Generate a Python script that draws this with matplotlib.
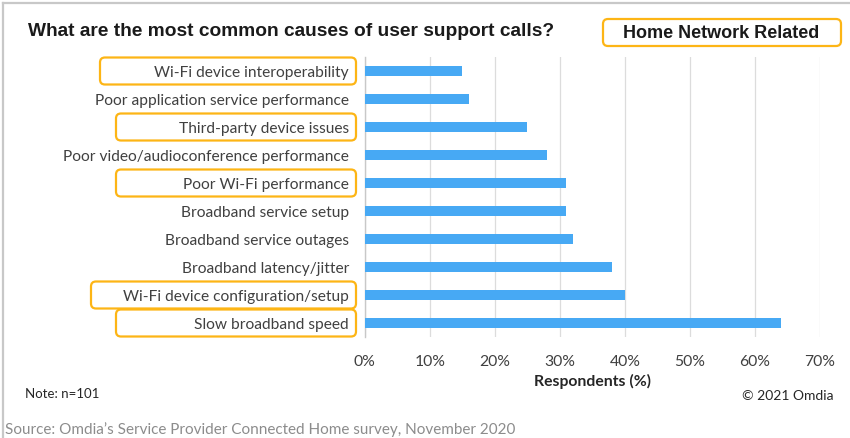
import matplotlib
matplotlib.use("Agg")
import matplotlib.pyplot as plt
from matplotlib.patches import FancyBboxPatch
from matplotlib.lines import Line2D
from matplotlib.transforms import IdentityTransform
from matplotlib.ticker import FuncFormatter

# data, top to bottom as in the chart
causes = [
    "Wi-Fi device interoperability",
    "Poor application service performance",
    "Third-party device issues",
    "Poor video/audioconference performance",
    "Poor Wi-Fi performance",
    "Broadband service setup",
    "Broadband service outages",
    "Broadband latency/jitter",
    "Wi-Fi device configuration/setup",
    "Slow broadband speed",
]
respondents = [15, 16, 25, 28, 31, 31, 32, 38, 40, 64]
home_network = [True, False, True, False, True, False, False, False, True, True]
xticks = [0, 10, 20, 30, 40, 50, 60, 70]

# left edge (px) of the orange frames around highlighted labels
box_left = [100, 0, 116, 0, 116, 0, 0, 0, 91, 116]

BLUE = "#47a9f4"
ORANGE = "#fdb515"
TXT = "#404040"
FONT = "Lato"

plt.rcParams["font.family"] = [FONT, "DejaVu Sans"]

fig = plt.figure(figsize=(8.5, 4.39), dpi=100)
W, H = 850, 439
ax = fig.add_axes([364.9 / W, 1 - 338 / H, (820 - 364.9) / W, 280 / H])

ypos = list(range(len(causes)))
ax.barh(ypos, respondents, height=0.39, color=BLUE, zorder=3)
ax.set_ylim(len(causes) - 0.5, -0.5)
ax.set_xlim(0, 70)
ax.set_xticks(xticks)
ax.xaxis.set_major_formatter(FuncFormatter(lambda v, p: f"{v:.0f}%"))
ax.set_yticks(ypos)
ax.set_yticklabels(causes, fontsize=11.2, color=TXT)
ax.tick_params(axis="y", length=0, pad=11.5)
ax.tick_params(axis="x", length=0, pad=12, labelsize=11.3, labelcolor=TXT)
ax.grid(axis="x", color="#dcdcdc", linewidth=0.9, zorder=0)
for s in ["top", "right", "bottom"]:
    ax.spines[s].set_visible(False)
ax.spines["left"].set_color("#c8c8c8")
ax.spines["left"].set_linewidth(1.0)
ax.set_xlabel("Respondents (%)", fontsize=11.3, fontweight="bold", color="#262626", labelpad=4)

# orange frames around home-network related labels (pixel coords)
label_right = 356
for i, hl in enumerate(home_network):
    if not hl:
        continue
    _, yc = ax.transData.transform((0, ypos[i]))
    x0 = box_left[i]
    fig.patches.append(FancyBboxPatch(
        (x0, yc - 13.5), label_right - x0, 27,
        boxstyle="round,pad=0,rounding_size=5",
        facecolor="none", edgecolor=ORANGE, linewidth=1.6,
        transform=IdentityTransform(), figure=fig))

# legend-like box at top right
fig.patches.append(FancyBboxPatch(
    (603, H - 47), 238, 27,
    boxstyle="round,pad=0,rounding_size=5",
    facecolor="white", edgecolor=ORANGE, linewidth=1.6,
    transform=IdentityTransform(), figure=fig))
fig.text(721 / W, 1 - 33.5 / H, "Home Network Related", ha="center", va="center",
         fontsize=13, fontweight="bold", color="#1a1a1a", family="Liberation Sans")

fig.text(28 / W, 1 - 32 / H, "What are the most common causes of user support calls?",
         ha="left", va="center", fontsize=13.8, fontweight="bold", color="#1a1a1a",
         family="Liberation Sans")

fig.text(25 / W, 1 - 394 / H, "Note: n=101", ha="left", va="center", fontsize=9.5, color="#262626")
fig.text(833 / W, 1 - 396 / H, "\u00a9 2021 Omdia", ha="right", va="center", fontsize=10, color="#262626")
fig.text(5 / W, 1 - 430 / H, "Source: Omdia\u2019s Service Provider Connected Home survey, November 2020",
         ha="left", va="center", fontsize=11, color="#8c8c8c")

# light grey frame on top and left
fig.lines.append(Line2D([3 / W, 1], [1 - 4 / H, 1 - 4 / H], transform=fig.transFigure,
                        color="#c8c8c8", linewidth=1.6))
fig.lines.append(Line2D([3 / W, 3 / W], [0, 1 - 4 / H], transform=fig.transFigure,
                        color="#c8c8c8", linewidth=1.6))

fig.savefig("out.png", dpi=100)
